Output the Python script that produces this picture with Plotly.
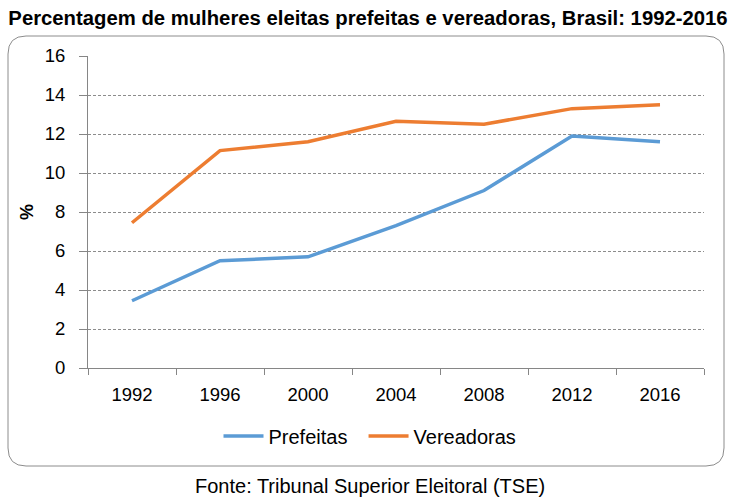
import plotly.graph_objects as go

years = ["1992", "1996", "2000", "2004", "2008", "2012", "2016"]
prefeitas = [3.45, 5.5, 5.7, 7.3, 9.1, 11.9, 11.6]
vereadoras = [7.45, 11.15, 11.6, 12.65, 12.5, 13.3, 13.5]
y_ticks = [0, 2, 4, 6, 8, 10, 12, 14, 16]

W, H = 738, 502
L, R, T, B = 88, 34, 56, 134
PW, PH = W - L - R, H - T - B

def px(x):
    return (x - L) / PW

def py(y):
    return (H - B - y) / PH

def rounded_rect(x0, y0, x1, y1, r):
    pts = [
        f"M {px(x0 + r)},{py(y0)}",
        f"L {px(x1 - r)},{py(y0)}",
        f"Q {px(x1)},{py(y0)} {px(x1)},{py(y0 + r)}",
        f"L {px(x1)},{py(y1 - r)}",
        f"Q {px(x1)},{py(y1)} {px(x1 - r)},{py(y1)}",
        f"L {px(x0 + r)},{py(y1)}",
        f"Q {px(x0)},{py(y1)} {px(x0)},{py(y1 - r)}",
        f"L {px(x0)},{py(y0 + r)}",
        f"Q {px(x0)},{py(y0)} {px(x0 + r)},{py(y0)}",
        "Z",
    ]
    return " ".join(pts)

font = "Liberation Sans, Arial, sans-serif"

fig = go.Figure()
fig.add_trace(go.Scatter(x=years, y=prefeitas, mode="lines", name="Prefeitas\u00a0\u00a0",
                         line=dict(color="#5B9BD5", width=3.5)))
fig.add_trace(go.Scatter(x=years, y=vereadoras, mode="lines", name="Vereadoras",
                         line=dict(color="#ED7D31", width=3.5)))

fig.update_layout(
    width=W, height=H,
    margin=dict(l=L, r=R, t=T, b=B, pad=0),
    paper_bgcolor="white", plot_bgcolor="white",
    font=dict(family=font, size=18, color="black"),
    title=dict(text="<b>Percentagem de mulheres eleitas prefeitas e vereadoras, Brasil: 1992-2016</b>",
               x=px(368), xanchor="center", xref="paper", y=1 - 18 / H, yanchor="middle",
               font=dict(family=font, size=20.3, color="black")),
    showlegend=True,
    legend=dict(orientation="h", x=px(370), xanchor="center", y=py(436), yanchor="middle",
                font=dict(size=20), itemwidth=40, bgcolor="rgba(0,0,0,0)"),
    xaxis=dict(type="category", range=[-0.5, 6.5], showgrid=False,
               showline=True, linecolor="#868686", linewidth=1,
               ticks="outside", tickson="boundaries", ticklen=6, tickcolor="#868686",
               ticklabelstandoff=10,
               tickfont=dict(size=18.5), fixedrange=True),
    yaxis=dict(range=[0, 16], tickvals=y_ticks, showgrid=True, gridcolor="#8c8c8c",
               griddash="3px,2px", gridwidth=1, zeroline=False,
               showline=True, linecolor="#868686", linewidth=1,
               ticks="outside", ticklen=8, tickcolor="#868686",
               ticklabelstandoff=10,
               tickfont=dict(size=18.5), fixedrange=True),
    shapes=[dict(type="path", xref="paper", yref="paper",
                 path=rounded_rect(8, 36, 724, 466, 18),
                 line=dict(color="#8c8c8c", width=1), layer="below")],
    annotations=[
        dict(text="<b>%</b>", xref="paper", yref="paper", x=px(27), y=py(212),
             showarrow=False, textangle=-90, font=dict(size=18), xanchor="center", yanchor="middle"),
        dict(text="Fonte: Tribunal Superior Eleitoral (TSE)", xref="paper", yref="paper",
             x=px(370), y=py(486), showarrow=False, font=dict(size=20),
             xanchor="center", yanchor="middle"),
    ],
)

fig.write_html("out.html", config={"displayModeBar": False},
               post_script="document.body.style.margin='0';document.body.style.padding='0';")
